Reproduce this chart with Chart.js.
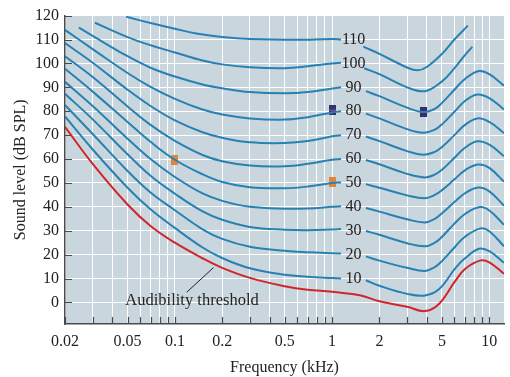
<!DOCTYPE html>
<html>
<head>
<meta charset="utf-8">
<script src="https://cdn.jsdelivr.net/npm/chart.js@4/dist/chart.umd.min.js"></script>
<style>
  html, body { margin: 0; padding: 0; background: #ffffff; }
  canvas { display: block; }
</style>
</head>
<body>
<canvas id="chart" width="510" height="377"></canvas>
<script>
// Данные кривых равной громкости: [частота кГц, уровень дБ]
const levels = [110, 100, 90, 80, 70, 60, 50, 40, 30, 20, 10];

const left110 = [[0.049, 119.5], [0.07, 116.9], [0.1, 114.5], [0.14, 112.4], [0.2, 111], [0.3, 110.2], [0.6, 109.9], [1, 110.2], [1.14, 110]];
const right110 = [[1.58, 107], [2, 104], [3, 98.3], [3.5, 97.1], [4, 98.5], [5, 104], [6, 110], [7.3, 115.8]];

const left100 = [[0.031, 117], [0.05, 111], [0.07, 107.6], [0.1, 104.6], [0.15, 101.2], [0.2, 99.6], [0.3, 98.4], [0.5, 98], [0.7, 98.8], [1, 100], [1.14, 100.3]];
const right100 = [[1.6, 98], [2, 95.5], [3, 90], [3.9, 88.4], [5, 92.5], [6, 98], [7, 103.5], [7.8, 106.9]];

const left90 = [[0.0245, 115], [0.03, 111.5], [0.05, 103], [0.07, 98.2], [0.1, 94.5], [0.15, 91.2], [0.2, 89.6], [0.3, 88], [0.5, 87.5], [0.7, 88], [1, 89.5], [1.14, 90]];
const right90 = [[1.64, 88.4], [2, 86.3], [3, 81.5], [3.8, 79.7], [4.5, 81], [5, 83.5], [6, 89], [7, 93.5], [8.6, 96.8], [10, 95.5], [12.4, 90.7]];

const left80 = [[0.02, 114], [0.03, 106], [0.05, 96], [0.07, 90.2], [0.1, 85.2], [0.15, 80.7], [0.2, 78.6], [0.3, 77], [0.5, 76.5], [0.7, 77.5], [1, 79.5], [1.14, 80]];
const right80 = [[1.64, 79], [2, 77], [3, 72.5], [3.8, 71], [4.5, 72.3], [5, 74.5], [6, 79.8], [7, 84.3], [8.4, 87], [10, 85.5], [12.4, 80.7]];

const left70 = [[0.02, 108.5], [0.03, 100.3], [0.05, 89], [0.07, 82.2], [0.1, 76.2], [0.15, 71.2], [0.2, 68.9], [0.3, 67], [0.5, 66.7], [0.7, 67.5], [1, 69.5], [1.14, 70]];
const right70 = [[1.64, 69.4], [2, 67.5], [3, 63.3], [3.8, 61.8], [4.5, 63], [5, 65], [6, 70], [7, 74.3], [8.4, 77], [10, 75.5], [12.4, 70.8]];

const left60 = [[0.02, 103], [0.03, 94.3], [0.05, 82], [0.07, 74.3], [0.1, 67.6], [0.15, 61.7], [0.2, 59.1], [0.3, 57.3], [0.5, 57], [0.7, 58], [1, 59.7], [1.14, 60]];
const right60 = [[1.64, 59.6], [2, 57.8], [3, 53.8], [3.9, 52.3], [4.5, 53.5], [5, 55.5], [6, 60.5], [7, 64.7], [8.4, 67.4], [10, 66], [12.4, 61.2]];

const left50 = [[0.02, 97.8], [0.03, 88.2], [0.05, 75.5], [0.07, 67.2], [0.1, 59.7], [0.15, 53.6], [0.2, 50.4], [0.3, 48.2], [0.5, 47.8], [0.7, 48.5], [1, 50], [1.14, 50.2]];
const right50 = [[1.64, 49.5], [2, 48], [3, 44.8], [3.9, 43.6], [4.5, 45], [5, 47], [6, 51.5], [7, 55.3], [8.5, 57.7], [10, 56.3], [12.4, 50.5]];

const left40 = [[0.02, 92.3], [0.03, 82.2], [0.05, 68.5], [0.07, 60], [0.1, 52.5], [0.15, 45.6], [0.2, 42.5], [0.3, 40], [0.5, 39.2], [0.7, 39.3], [1, 40], [1.14, 40.3]];
const right40 = [[1.64, 39.5], [2, 38], [3, 34.8], [3.9, 33.5], [4.5, 35], [5, 37.3], [6, 42], [7, 45.7], [8.5, 48.1], [10, 46.5], [12.4, 40.5]];

const left30 = [[0.02, 87.3], [0.03, 76.6], [0.05, 62], [0.07, 53], [0.1, 45.5], [0.15, 38.1], [0.2, 34.6], [0.3, 31.6], [0.5, 30.4], [0.7, 30.2], [1, 30.5], [1.14, 30.7]];
const right30 = [[1.64, 29.9], [2, 28.3], [3, 24.8], [3.9, 23.5], [4.5, 25], [5, 27.5], [6, 33], [7, 37], [8.7, 39.9], [10, 38.5], [12.4, 32.5]];

const left20 = [[0.02, 82.6], [0.03, 70.5], [0.05, 55], [0.07, 46], [0.1, 38.6], [0.15, 30.6], [0.2, 26.6], [0.3, 23.3], [0.5, 21.6], [0.7, 21], [1, 20.6], [1.14, 20.5]];
const right20 = [[1.64, 19.3], [2, 17.5], [3, 14.5], [3.9, 13.2], [4.5, 14.8], [5, 17.3], [6, 23], [7, 27.5], [8.8, 31], [10, 29.8], [12.4, 23.5]];

const left10 = [[0.02, 77.8], [0.03, 64], [0.05, 48], [0.07, 39], [0.1, 31.2], [0.15, 23], [0.2, 18.6], [0.3, 14.3], [0.5, 11.6], [0.7, 10.8], [1, 10.2], [1.14, 10]];
const right10 = [[1.64, 9.3], [2, 7], [3, 3.6], [3.9, 2.9], [4.8, 5.6], [6.1, 14.5], [7, 18.5], [8.6, 22.5], [10, 21.5], [12.4, 16.6]];

// Порог слышимости (красная кривая)
const threshold = [[0.02, 73.5], [0.03, 58], [0.05, 41], [0.07, 32], [0.1, 25], [0.15, 18.5], [0.2, 14.5], [0.3, 10.3], [0.5, 6.8], [0.7, 5.3], [1, 4.5], [1.5, 3], [2, 0.5], [3, -1.8], [3.9, -3.6], [4.8, -0.5], [6, 8.5], [7, 14], [8.8, 17.6], [10, 16.8], [12.4, 12]];

// Маркеры
const orangeMarks = [[0.1, 59.5], [1, 50.3]];
const purpleMarks = [[1, 80.4], [3.82, 79.7]];

const labelFreq = 1.37; // где стоят подписи 10..110
const xTickLabels = [0.02, 0.05, 0.1, 0.2, 0.5, 1, 2, 5, 10];
const yTickValues = [0, 10, 20, 30, 40, 50, 60, 70, 80, 90, 100, 110, 120];

const curves = {
  110: [left110, right110], 100: [left100, right100], 90: [left90, right90],
  80: [left80, right80], 70: [left70, right70], 60: [left60, right60],
  50: [left50, right50], 40: [left40, right40], 30: [left30, right30],
  20: [left20, right20], 10: [left10, right10],
};

const BLUE = '#2781b2';
const RED = '#d0262b';
const SERIF = '"Liberation Serif", "DejaVu Serif", serif';

const toPts = (arr) => arr.map(([x, y]) => ({ x, y }));

// Все деления логарифмической оси
const xTickValues = [];
[0.01, 0.1, 1, 10].forEach((d) => {
  for (let m = 1; m <= 9; m++) {
    const v = Number((m * d).toPrecision(3));
    if (v >= 0.02 && v <= 12.4) xTickValues.push(v);
  }
});

function markerCanvas(color, stripe) {
  const c = document.createElement('canvas');
  c.width = 7;
  c.height = 10;
  const g = c.getContext('2d');
  g.fillStyle = color;
  g.fillRect(0, 0, 7, 10);
  if (stripe) {
    g.fillStyle = stripe;
    g.fillRect(0, 4.5, 7, 1);
  }
  return c;
}

const datasets = [];
levels.forEach((lv) => {
  const [l, r] = curves[lv];
  datasets.push({
    label: String(lv),
    data: [...toPts(l), { x: labelFreq, y: null }, ...toPts(r)],
    borderColor: BLUE,
    borderWidth: 2,
    pointRadius: 0,
    spanGaps: false,
    tension: 0.4,
  });
});
datasets.push({
  label: 'threshold',
  data: toPts(threshold),
  borderColor: RED,
  borderWidth: 2,
  pointRadius: 0,
  tension: 0.4,
});
datasets.push({
  label: 'orange',
  data: toPts(orangeMarks),
  showLine: false,
  pointStyle: markerCanvas('#e0863a', null),
  pointRadius: 5,
});
datasets.push({
  label: 'purple',
  data: toPts(purpleMarks),
  showLine: false,
  pointStyle: markerCanvas('#3a2d6e', '#7a72a8'),
  pointRadius: 5,
});

// Фон области графика
const plotBgPlugin = {
  id: 'plotBg',
  beforeDraw(chart) {
    const { ctx, chartArea: a } = chart;
    ctx.save();
    ctx.fillStyle = '#c9d6de';
    ctx.fillRect(a.left, a.top, a.right - a.left, a.bottom - a.top);
    ctx.restore();
  },
};

// Короткие засечки внутрь области графика
const innerTicksPlugin = {
  id: 'innerTicks',
  beforeDatasetsDraw(chart) {
    const { ctx, chartArea: a, scales } = chart;
    ctx.save();
    ctx.strokeStyle = '#4a4a4a';
    ctx.lineWidth = 1.2;
    ctx.beginPath();
    xTickValues.forEach((v) => {
      const px = Math.round(scales.x.getPixelForValue(v)) + 0.5;
      ctx.moveTo(px, a.bottom);
      ctx.lineTo(px, a.bottom - 7);
    });
    yTickValues.forEach((v) => {
      const py = Math.round(scales.y.getPixelForValue(v)) + 0.5;
      ctx.moveTo(a.left, py);
      ctx.lineTo(a.left + 7, py);
    });
    ctx.stroke();
    ctx.restore();
  },
};

// Подписи кривых и аннотация порога
const labelsPlugin = {
  id: 'curveLabels',
  afterDatasetsDraw(chart) {
    const { ctx, scales } = chart;
    ctx.save();
    ctx.fillStyle = '#222222';
    ctx.font = '16px ' + SERIF;
    ctx.textAlign = 'center';
    ctx.textBaseline = 'middle';
    levels.forEach((lv) => {
      ctx.fillText(String(lv), scales.x.getPixelForValue(labelFreq), scales.y.getPixelForValue(lv));
    });

    ctx.font = '16.5px ' + SERIF;
    ctx.textAlign = 'left';
    ctx.fillText('Audibility threshold', scales.x.getPixelForValue(0.0484), scales.y.getPixelForValue(0.8));

    ctx.strokeStyle = '#222222';
    ctx.lineWidth = 1;
    ctx.beginPath();
    ctx.moveTo(scales.x.getPixelForValue(0.119), scales.y.getPixelForValue(4.3));
    ctx.lineTo(scales.x.getPixelForValue(0.176), scales.y.getPixelForValue(14.6));
    ctx.stroke();
    ctx.restore();
  },
};

new Chart(document.getElementById('chart').getContext('2d'), {
  type: 'line',
  data: { datasets },
  options: {
    responsive: false,
    animation: false,
    layout: { padding: { top: 10, right: 2, left: 0, bottom: 0 } },
    plugins: {
      legend: { display: false },
      tooltip: { enabled: false },
    },
    scales: {
      x: {
        type: 'logarithmic',
        min: 0.02,
        max: 12.4,
        afterBuildTicks: (scale) => {
          scale.ticks = xTickValues.map((v) => ({ value: v }));
        },
        afterFit: (scale) => { scale.height = 53; },
        ticks: {
          autoSkip: false,
          maxRotation: 0,
          padding: 8,
          color: '#222222',
          font: { family: SERIF, size: 16 },
          callback: (value, index, ticks) => {
            const v = ticks[index].value;
            return xTickLabels.some((t) => Math.abs(t - v) < 1e-9) ? String(v) : '';
          },
        },
        grid: { color: '#ffffff', lineWidth: 1, drawTicks: false },
        border: { display: true, color: '#4a4a4a', width: 1.5 },
        title: {
          display: true,
          text: 'Frequency (kHz)',
          color: '#222222',
          font: { family: SERIF, size: 16 },
          padding: { top: 2, bottom: 0 },
        },
      },
      y: {
        type: 'linear',
        min: -9,
        max: 120,
        afterBuildTicks: (scale) => {
          scale.ticks = yTickValues.map((v) => ({ value: v }));
        },
        afterFit: (scale) => { scale.width = 65; },
        ticks: {
          padding: 6,
          color: '#222222',
          font: { family: SERIF, size: 16 },
        },
        grid: { color: '#ffffff', lineWidth: 1, drawTicks: false },
        border: { display: true, color: '#4a4a4a', width: 1.5 },
        title: {
          display: true,
          text: 'Sound level (dB SPL)',
          color: '#222222',
          font: { family: SERIF, size: 16 },
          padding: { top: 11, bottom: 0 },
        },
      },
    },
  },
  plugins: [plotBgPlugin, innerTicksPlugin, labelsPlugin],
});
</script>
</body>
</html>
